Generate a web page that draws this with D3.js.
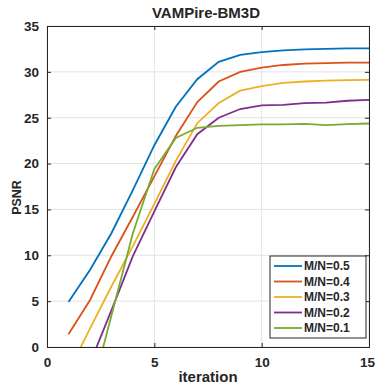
<!DOCTYPE html>
<html>
<head>
<meta charset="utf-8">
<script src="https://cdn.jsdelivr.net/npm/d3@7"></script>
<style>
  body { margin: 0; background: #fff; }
  text { font-family: "Liberation Sans", Arial, sans-serif; font-weight: bold; fill: #262626; }
</style>
</head>
<body>
<div id="chart"></div>
<script>
const iterations = [1, 2, 3, 4, 5, 6, 7, 8, 9, 10, 11, 12, 13, 14, 15];
const seriesNames = ['M/N=0.5', 'M/N=0.4', 'M/N=0.3', 'M/N=0.2', 'M/N=0.1'];
const psnr05 = [4.9, 8.4, 12.4, 17.1, 22.0, 26.2, 29.2, 31.1, 31.85, 32.15, 32.35, 32.45, 32.5, 32.55, 32.55];
const psnr04 = [1.4, 5.1, 9.9, 14.2, 18.6, 23.0, 26.7, 28.95, 30.0, 30.45, 30.75, 30.9, 30.95, 31.0, 31.0];
const psnr03 = [-2.7, 2.0, 6.6, 11.0, 15.6, 20.3, 24.4, 26.6, 27.95, 28.45, 28.8, 28.95, 29.05, 29.1, 29.12];
const psnr02 = [-7.5, -1.8, 4.0, 9.9, 14.8, 19.6, 23.2, 25.0, 25.95, 26.35, 26.4, 26.6, 26.65, 26.85, 26.95];
const psnr01 = [-14.0, -5.5, 3.4, 12.4, 19.4, 22.8, 23.9, 24.1, 24.2, 24.27, 24.27, 24.33, 24.2, 24.3, 24.37];
const xTicks = [0, 5, 10, 15];
const yTicks = [0, 5, 10, 15, 20, 25, 30, 35];
const colors = ['#0072BD', '#D95319', '#EDB120', '#7E2F8E', '#77AC30'];

const allSeries = [psnr05, psnr04, psnr03, psnr02, psnr01];

const width = 375, height = 384;
const margin = {top: 26, right: 6, bottom: 37, left: 47};
const innerW = width - margin.left - margin.right;
const innerH = height - margin.top - margin.bottom;

const svg = d3.select('#chart').append('svg')
  .attr('width', width)
  .attr('height', height);

const x = d3.scaleLinear().domain([0, 15]).range([0, innerW]);
const y = d3.scaleLinear().domain([0, 35]).range([innerH, 0]);

const g = svg.append('g').attr('transform', `translate(${margin.left},${margin.top})`);

g.append('clipPath').attr('id', 'clip')
  .append('rect').attr('width', innerW).attr('height', innerH);

// grid
g.append('g')
  .selectAll('line')
  .data(xTicks)
  .enter()
  .append('line')
  .attr('x1', d => x(d)).attr('x2', d => x(d))
  .attr('y1', 0).attr('y2', innerH)
  .attr('stroke', '#e3e3e3');

g.append('g')
  .selectAll('line')
  .data(yTicks)
  .enter()
  .append('line')
  .attr('x1', 0).attr('x2', innerW)
  .attr('y1', d => y(d)).attr('y2', d => y(d))
  .attr('stroke', '#e3e3e3');

// lines
const line = d3.line()
  .x((d, i) => x(iterations[i]))
  .y(d => y(d));

g.append('g')
  .attr('clip-path', 'url(#clip)')
  .selectAll('path')
  .data(allSeries)
  .enter()
  .append('path')
  .attr('d', d => line(d))
  .attr('fill', 'none')
  .attr('stroke', (d, i) => colors[i])
  .attr('stroke-width', 1.8);

// axes
const axisColor = '#262626';
const xAxis = g.append('g').attr('transform', `translate(0,${innerH})`)
  .call(d3.axisBottom(x).tickValues(xTicks).tickSize(-4).tickPadding(10));
const xTop = g.append('g')
  .call(d3.axisTop(x).tickValues(xTicks).tickSize(-4).tickFormat(''));
const yAxis = g.append('g')
  .call(d3.axisLeft(y).tickValues(yTicks).tickSize(-4).tickPadding(8));
const yRight = g.append('g').attr('transform', `translate(${innerW},0)`)
  .call(d3.axisRight(y).tickValues(yTicks).tickSize(-4).tickFormat(''));

[xAxis, xTop, yAxis, yRight].forEach(a => {
  a.select('.domain').attr('stroke', axisColor).attr('stroke-width', 1);
  a.selectAll('.tick line').attr('stroke', axisColor);
  a.selectAll('text')
    .style('font-family', '"Liberation Sans", Arial, sans-serif')
    .style('font-weight', 'bold')
    .style('font-size', '13.5px')
    .attr('fill', axisColor);
});

// keep the last x label inside the window
xAxis.selectAll('.tick text').filter(d => d === 15).attr('dx', -2);

// title and labels
svg.append('text')
  .attr('x', margin.left + innerW / 2 - 2)
  .attr('y', 18)
  .attr('text-anchor', 'middle')
  .style('font-size', '15px')
  .text('VAMPire-BM3D');

svg.append('text')
  .attr('x', margin.left + innerW / 2)
  .attr('y', 382)
  .attr('text-anchor', 'middle')
  .style('font-size', '15px')
  .text('iteration');

svg.append('text')
  .attr('transform', `translate(21,${margin.top + innerH / 2 + 11}) rotate(-90)`)
  .attr('text-anchor', 'middle')
  .style('font-size', '12.5px')
  .text('PSNR');

// legend
const legend = svg.append('g').attr('transform', 'translate(270,256)');
legend.append('rect')
  .attr('width', 96).attr('height', 82)
  .attr('fill', '#fff')
  .attr('stroke', '#262626')
  .attr('stroke-width', 1);

const entries = legend.selectAll('g.entry')
  .data(seriesNames)
  .enter()
  .append('g')
  .attr('class', 'entry')
  .attr('transform', (d, i) => `translate(0,${10 + i * 15.5})`);

entries.append('line')
  .attr('x1', 4).attr('x2', 32)
  .attr('stroke', (d, i) => colors[i])
  .attr('stroke-width', 1.8);

entries.append('text')
  .attr('x', 34)
  .attr('y', 4)
  .style('font-size', '12px')
  .text(d => d);
</script>
</body>
</html>
